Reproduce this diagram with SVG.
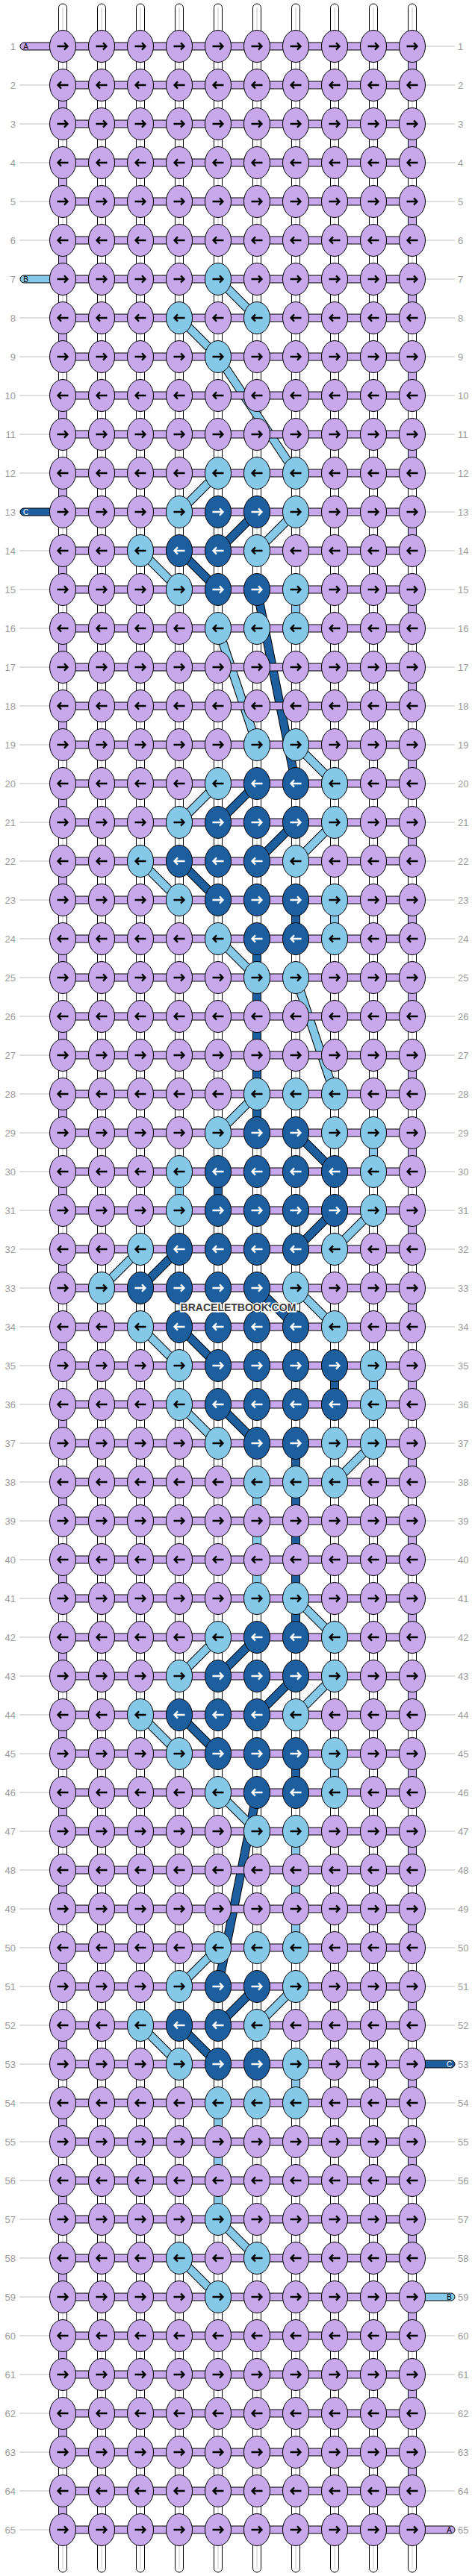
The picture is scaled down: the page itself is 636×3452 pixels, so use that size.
<svg xmlns="http://www.w3.org/2000/svg" width="636" height="3452" viewBox="0 0 636 3452">
<style>
.st{fill:#fff;stroke:#000}
.sl{fill:none;stroke:#c4c4c4}
.vl,.hr,.kl,.pl{fill:#c7a8ea;stroke:#000}
.vb,.kb,.pb{fill:#86c8e8;stroke:#000}
.vd,.kd,.pd{fill:#1c5e9e;stroke:#000}
.ob{fill:none;stroke:#000;stroke-width:12}
.bb{fill:none;stroke:#86c8e8;stroke-width:10}
.bd{fill:none;stroke:#1c5e9e;stroke-width:10}
.ab{fill:none;stroke:#000;stroke-width:2.3}
.aw{fill:none;stroke:#fff;stroke-width:2.3}
.lt,.rt{font-family:"Liberation Sans",Arial,sans-serif;font-size:13px;fill:#9a9a9a}
.lt{text-anchor:end}
.ln{fill:none;stroke:#bdbdbd}
.pt,.pw{font-family:"Liberation Sans",Arial,sans-serif;font-size:10px;text-anchor:middle}
.pt{fill:#000}
.pw{fill:#fff}
.wm{font-family:"Liberation Sans",Arial,sans-serif;font-size:14px;font-weight:bold;fill:#3c3c3c;stroke:#fff;stroke-width:3;paint-order:stroke;text-anchor:middle}
</style>
<defs>
<g id="a"><ellipse class="kl" rx="17.5" ry="21.5"/><path class="ab" d="M-7.5,0H6M2,-4.6L6.5,0L2,4.6"/></g>
<g id="b"><ellipse class="kl" rx="17.5" ry="21.5"/><path class="ab" d="M7.5,0H-6M-2,-4.6L-6.5,0L-2,4.6"/></g>
<g id="c"><ellipse class="kb" rx="17.5" ry="21.5"/><path class="ab" d="M-7.5,0H6M2,-4.6L6.5,0L2,4.6"/></g>
<g id="d"><ellipse class="kb" rx="17.5" ry="21.5"/><path class="ab" d="M7.5,0H-6M-2,-4.6L-6.5,0L-2,4.6"/></g>
<g id="e"><ellipse class="kd" rx="17.5" ry="21.5"/><path class="aw" d="M-7.5,0H6M2,-4.6L6.5,0L2,4.6"/></g>
<g id="f"><ellipse class="kd" rx="17.5" ry="21.5"/><path class="aw" d="M7.5,0H-6M-2,-4.6L-6.5,0L-2,4.6"/></g>
</defs>
<rect width="636" height="3452" fill="#fff"/>
<g id="connectors">
<g id="strands">
<rect class="st" x="78.5" y="5" width="11" height="3442" rx="5.5"/>
<rect class="st" x="130.5" y="5" width="11" height="3442" rx="5.5"/>
<rect class="st" x="182.5" y="5" width="11" height="3442" rx="5.5"/>
<rect class="st" x="234.5" y="5" width="11" height="3442" rx="5.5"/>
<rect class="st" x="286.5" y="5" width="11" height="3442" rx="5.5"/>
<rect class="st" x="338.5" y="5" width="11" height="3442" rx="5.5"/>
<rect class="st" x="390.5" y="5" width="11" height="3442" rx="5.5"/>
<rect class="st" x="442.5" y="5" width="11" height="3442" rx="5.5"/>
<rect class="st" x="494.5" y="5" width="11" height="3442" rx="5.5"/>
<rect class="st" x="546.5" y="5" width="11" height="3442" rx="5.5"/>
<path class="sl" d="M84,10V3442M136,10V3442M188,10V3442M240,10V3442M292,10V3442M344,10V3442M396,10V3442M448,10V3442M500,10V3442M552,10V3442"/>
</g>
<path class="vl" d="M546.5,77h11v22h-11zM546.5,181h11v22h-11zM546.5,285h11v22h-11zM546.5,389h11v22h-11zM546.5,493h11v22h-11zM546.5,597h11v22h-11zM546.5,701h11v22h-11zM546.5,805h11v22h-11zM546.5,909h11v22h-11zM546.5,1013h11v22h-11zM546.5,1117h11v22h-11zM546.5,1221h11v22h-11zM546.5,1325h11v22h-11zM546.5,1429h11v22h-11zM546.5,1533h11v22h-11zM546.5,1637h11v22h-11zM546.5,1741h11v22h-11zM546.5,1845h11v22h-11zM546.5,1949h11v22h-11zM546.5,2053h11v22h-11zM546.5,2157h11v22h-11zM546.5,2261h11v22h-11zM546.5,2365h11v22h-11zM546.5,2469h11v22h-11zM546.5,2573h11v22h-11zM546.5,2677h11v22h-11zM546.5,2781h11v22h-11zM546.5,2885h11v22h-11zM546.5,2989h11v22h-11zM546.5,3093h11v22h-11zM546.5,3197h11v22h-11zM546.5,3301h11v22h-11zM78.5,129h11v22h-11zM78.5,233h11v22h-11zM78.5,337h11v22h-11zM78.5,441h11v22h-11zM78.5,545h11v22h-11zM78.5,649h11v22h-11zM78.5,753h11v22h-11zM78.5,857h11v22h-11zM78.5,961h11v22h-11zM78.5,1065h11v22h-11zM78.5,1169h11v22h-11zM78.5,1273h11v22h-11zM78.5,1377h11v22h-11zM78.5,1481h11v22h-11zM78.5,1585h11v22h-11zM78.5,1689h11v22h-11zM78.5,1793h11v22h-11zM78.5,1897h11v22h-11zM78.5,2001h11v22h-11zM78.5,2105h11v22h-11zM78.5,2209h11v22h-11zM78.5,2313h11v22h-11zM78.5,2417h11v22h-11zM78.5,2521h11v22h-11zM78.5,2625h11v22h-11zM78.5,2729h11v22h-11zM78.5,2833h11v22h-11zM78.5,2937h11v22h-11zM78.5,3041h11v22h-11zM78.5,3145h11v22h-11zM78.5,3249h11v22h-11zM78.5,3353h11v22h-11z"/>
<path class="vd" d="M338.5,1273h11v230h-11zM390.5,1221h11v22h-11zM286.5,1585h11v22h-11zM442.5,1845h11v22h-11zM390.5,1949h11v230h-11zM390.5,2365h11v22h-11z"/>
<path class="vb" d="M390.5,805h11v22h-11zM442.5,1221h11v22h-11zM494.5,1533h11v22h-11zM234.5,1585h11v22h-11zM494.5,1845h11v22h-11zM338.5,2001h11v126h-11zM442.5,2365h11v22h-11zM390.5,2469h11v126h-11zM390.5,2781h11v22h-11zM286.5,2833h11v126h-11z"/>
<path class="ob" d="M292,374L344,426M240,426L292,478M292,478L396,634M292,634L240,686M396,686L344,738M188,738L240,790M292,842L344,998M396,998L448,1050M292,1050L240,1102M448,1102L396,1154M188,1154L240,1206M292,1258L344,1310M396,1310L448,1466M344,1466L292,1518M500,1622L448,1674M188,1674L136,1726M396,1726L448,1778M188,1778L240,1830M240,1882L292,1934M500,1934L448,1986M396,2142L448,2194M292,2194L240,2246M448,2246L396,2298M188,2298L240,2350M292,2402L344,2454M292,2610L240,2662M396,2662L344,2714M188,2714L240,2766M292,2974L344,3026M240,3026L292,3078M344,686L292,738M240,738L292,790M344,790L396,1050M344,1050L292,1102M396,1102L344,1154M240,1154L292,1206M396,1518L448,1570M448,1622L396,1674M240,1674L188,1726M344,1726L396,1778M240,1778L292,1830M292,1882L344,1934M344,2194L292,2246M396,2246L344,2298M240,2298L292,2350M344,2402L292,2662M344,2662L292,2714M240,2714L292,2766"/>
<path class="bb" d="M292,374L344,426M240,426L292,478M292,478L396,634M292,634L240,686M396,686L344,738M188,738L240,790M292,842L344,998M396,998L448,1050M292,1050L240,1102M448,1102L396,1154M188,1154L240,1206M292,1258L344,1310M396,1310L448,1466M344,1466L292,1518M500,1622L448,1674M188,1674L136,1726M396,1726L448,1778M188,1778L240,1830M240,1882L292,1934M500,1934L448,1986M396,2142L448,2194M292,2194L240,2246M448,2246L396,2298M188,2298L240,2350M292,2402L344,2454M292,2610L240,2662M396,2662L344,2714M188,2714L240,2766M292,2974L344,3026M240,3026L292,3078"/>
<path class="bd" d="M344,686L292,738M240,738L292,790M344,790L396,1050M344,1050L292,1102M396,1102L344,1154M240,1154L292,1206M396,1518L448,1570M448,1622L396,1674M240,1674L188,1726M344,1726L396,1778M240,1778L292,1830M292,1882L344,1934M344,2194L292,2246M396,2246L344,2298M240,2298L292,2350M344,2402L292,2662M344,2662L292,2714M240,2714L292,2766"/>
<path class="hr" d="M84,57h468v10h-468zM84,109h468v10h-468zM84,161h468v10h-468zM84,213h468v10h-468zM84,265h468v10h-468zM84,317h468v10h-468zM84,369h468v10h-468zM84,421h468v10h-468zM84,473h468v10h-468zM84,525h468v10h-468zM84,577h468v10h-468zM84,629h468v10h-468zM84,681h468v10h-468zM84,733h468v10h-468zM84,785h468v10h-468zM84,837h468v10h-468zM84,889h468v10h-468zM84,941h468v10h-468zM84,993h468v10h-468zM84,1045h468v10h-468zM84,1097h468v10h-468zM84,1149h468v10h-468zM84,1201h468v10h-468zM84,1253h468v10h-468zM84,1305h468v10h-468zM84,1357h468v10h-468zM84,1409h468v10h-468zM84,1461h468v10h-468zM84,1513h468v10h-468zM84,1565h468v10h-468zM84,1617h468v10h-468zM84,1669h468v10h-468zM84,1721h468v10h-468zM84,1773h468v10h-468zM84,1825h468v10h-468zM84,1877h468v10h-468zM84,1929h468v10h-468zM84,1981h468v10h-468zM84,2033h468v10h-468zM84,2085h468v10h-468zM84,2137h468v10h-468zM84,2189h468v10h-468zM84,2241h468v10h-468zM84,2293h468v10h-468zM84,2345h468v10h-468zM84,2397h468v10h-468zM84,2449h468v10h-468zM84,2501h468v10h-468zM84,2553h468v10h-468zM84,2605h468v10h-468zM84,2657h468v10h-468zM84,2709h468v10h-468zM84,2761h468v10h-468zM84,2813h468v10h-468zM84,2865h468v10h-468zM84,2917h468v10h-468zM84,2969h468v10h-468zM84,3021h468v10h-468zM84,3073h468v10h-468zM84,3125h468v10h-468zM84,3177h468v10h-468zM84,3229h468v10h-468zM84,3281h468v10h-468zM84,3333h468v10h-468zM84,3385h468v10h-468z"/>
<g id="ends">
<rect class="pl" x="27" y="57" width="62" height="10" rx="5"/><text class="pt" x="34.5" y="65.6">A</text>
<rect class="pb" x="27" y="369" width="62" height="10" rx="5"/><text class="pt" x="34.5" y="377.6">B</text>
<rect class="pd" x="27" y="681" width="62" height="10" rx="5"/><text class="pw" x="34.5" y="689.6">C</text>
<rect class="pd" x="547" y="2761" width="62" height="10" rx="5"/><text class="pw" x="601.5" y="2769.6">C</text>
<rect class="pb" x="547" y="3073" width="62" height="10" rx="5"/><text class="pt" x="601.5" y="3081.6">B</text>
<rect class="pl" x="547" y="3385" width="62" height="10" rx="5"/><text class="pt" x="601.5" y="3393.6">A</text>
</g>
</g>
<g id="nodes">
<g id="row1" transform="translate(0,62)"><text class="lt" x="21" y="4.5">1</text><text class="rt" x="613" y="4.5">1</text><path class="ln" d="M570,0H609"/><g id="n1_1"><use href="#a" x="84"/></g><g id="n1_2"><use href="#a" x="136"/></g><g id="n1_3"><use href="#a" x="188"/></g><g id="n1_4"><use href="#a" x="240"/></g><g id="n1_5"><use href="#a" x="292"/></g><g id="n1_6"><use href="#a" x="344"/></g><g id="n1_7"><use href="#a" x="396"/></g><g id="n1_8"><use href="#a" x="448"/></g><g id="n1_9"><use href="#a" x="500"/></g><g id="n1_10"><use href="#a" x="552"/></g></g>
<g id="row2" transform="translate(0,114)"><text class="lt" x="21" y="4.5">2</text><text class="rt" x="613" y="4.5">2</text><path class="ln" d="M26,0H66M570,0H609"/><g id="n2_1"><use href="#b" x="84"/></g><g id="n2_2"><use href="#b" x="136"/></g><g id="n2_3"><use href="#b" x="188"/></g><g id="n2_4"><use href="#b" x="240"/></g><g id="n2_5"><use href="#b" x="292"/></g><g id="n2_6"><use href="#b" x="344"/></g><g id="n2_7"><use href="#b" x="396"/></g><g id="n2_8"><use href="#b" x="448"/></g><g id="n2_9"><use href="#b" x="500"/></g><g id="n2_10"><use href="#b" x="552"/></g></g>
<g id="row3" transform="translate(0,166)"><text class="lt" x="21" y="4.5">3</text><text class="rt" x="613" y="4.5">3</text><path class="ln" d="M26,0H66M570,0H609"/><g id="n3_1"><use href="#a" x="84"/></g><g id="n3_2"><use href="#a" x="136"/></g><g id="n3_3"><use href="#a" x="188"/></g><g id="n3_4"><use href="#a" x="240"/></g><g id="n3_5"><use href="#a" x="292"/></g><g id="n3_6"><use href="#a" x="344"/></g><g id="n3_7"><use href="#a" x="396"/></g><g id="n3_8"><use href="#a" x="448"/></g><g id="n3_9"><use href="#a" x="500"/></g><g id="n3_10"><use href="#a" x="552"/></g></g>
<g id="row4" transform="translate(0,218)"><text class="lt" x="21" y="4.5">4</text><text class="rt" x="613" y="4.5">4</text><path class="ln" d="M26,0H66M570,0H609"/><g id="n4_1"><use href="#b" x="84"/></g><g id="n4_2"><use href="#b" x="136"/></g><g id="n4_3"><use href="#b" x="188"/></g><g id="n4_4"><use href="#b" x="240"/></g><g id="n4_5"><use href="#b" x="292"/></g><g id="n4_6"><use href="#b" x="344"/></g><g id="n4_7"><use href="#b" x="396"/></g><g id="n4_8"><use href="#b" x="448"/></g><g id="n4_9"><use href="#b" x="500"/></g><g id="n4_10"><use href="#b" x="552"/></g></g>
<g id="row5" transform="translate(0,270)"><text class="lt" x="21" y="4.5">5</text><text class="rt" x="613" y="4.5">5</text><path class="ln" d="M26,0H66M570,0H609"/><g id="n5_1"><use href="#a" x="84"/></g><g id="n5_2"><use href="#a" x="136"/></g><g id="n5_3"><use href="#a" x="188"/></g><g id="n5_4"><use href="#a" x="240"/></g><g id="n5_5"><use href="#a" x="292"/></g><g id="n5_6"><use href="#a" x="344"/></g><g id="n5_7"><use href="#a" x="396"/></g><g id="n5_8"><use href="#a" x="448"/></g><g id="n5_9"><use href="#a" x="500"/></g><g id="n5_10"><use href="#a" x="552"/></g></g>
<g id="row6" transform="translate(0,322)"><text class="lt" x="21" y="4.5">6</text><text class="rt" x="613" y="4.5">6</text><path class="ln" d="M26,0H66M570,0H609"/><g id="n6_1"><use href="#b" x="84"/></g><g id="n6_2"><use href="#b" x="136"/></g><g id="n6_3"><use href="#b" x="188"/></g><g id="n6_4"><use href="#b" x="240"/></g><g id="n6_5"><use href="#b" x="292"/></g><g id="n6_6"><use href="#b" x="344"/></g><g id="n6_7"><use href="#b" x="396"/></g><g id="n6_8"><use href="#b" x="448"/></g><g id="n6_9"><use href="#b" x="500"/></g><g id="n6_10"><use href="#b" x="552"/></g></g>
<g id="row7" transform="translate(0,374)"><text class="lt" x="21" y="4.5">7</text><text class="rt" x="613" y="4.5">7</text><path class="ln" d="M570,0H609"/><g id="n7_1"><use href="#a" x="84"/></g><g id="n7_2"><use href="#a" x="136"/></g><g id="n7_3"><use href="#a" x="188"/></g><g id="n7_4"><use href="#a" x="240"/></g><g id="n7_5"><use href="#c" x="292"/></g><g id="n7_6"><use href="#a" x="344"/></g><g id="n7_7"><use href="#a" x="396"/></g><g id="n7_8"><use href="#a" x="448"/></g><g id="n7_9"><use href="#a" x="500"/></g><g id="n7_10"><use href="#a" x="552"/></g></g>
<g id="row8" transform="translate(0,426)"><text class="lt" x="21" y="4.5">8</text><text class="rt" x="613" y="4.5">8</text><path class="ln" d="M26,0H66M570,0H609"/><g id="n8_1"><use href="#b" x="84"/></g><g id="n8_2"><use href="#b" x="136"/></g><g id="n8_3"><use href="#b" x="188"/></g><g id="n8_4"><use href="#d" x="240"/></g><g id="n8_5"><use href="#b" x="292"/></g><g id="n8_6"><use href="#d" x="344"/></g><g id="n8_7"><use href="#b" x="396"/></g><g id="n8_8"><use href="#b" x="448"/></g><g id="n8_9"><use href="#b" x="500"/></g><g id="n8_10"><use href="#b" x="552"/></g></g>
<g id="row9" transform="translate(0,478)"><text class="lt" x="21" y="4.5">9</text><text class="rt" x="613" y="4.5">9</text><path class="ln" d="M26,0H66M570,0H609"/><g id="n9_1"><use href="#a" x="84"/></g><g id="n9_2"><use href="#a" x="136"/></g><g id="n9_3"><use href="#a" x="188"/></g><g id="n9_4"><use href="#a" x="240"/></g><g id="n9_5"><use href="#c" x="292"/></g><g id="n9_6"><use href="#a" x="344"/></g><g id="n9_7"><use href="#a" x="396"/></g><g id="n9_8"><use href="#a" x="448"/></g><g id="n9_9"><use href="#a" x="500"/></g><g id="n9_10"><use href="#a" x="552"/></g></g>
<g id="row10" transform="translate(0,530)"><text class="lt" x="21" y="4.5">10</text><text class="rt" x="613" y="4.5">10</text><path class="ln" d="M26,0H66M570,0H609"/><g id="n10_1"><use href="#b" x="84"/></g><g id="n10_2"><use href="#b" x="136"/></g><g id="n10_3"><use href="#b" x="188"/></g><g id="n10_4"><use href="#b" x="240"/></g><g id="n10_5"><use href="#b" x="292"/></g><g id="n10_6"><use href="#b" x="344"/></g><g id="n10_7"><use href="#b" x="396"/></g><g id="n10_8"><use href="#b" x="448"/></g><g id="n10_9"><use href="#b" x="500"/></g><g id="n10_10"><use href="#b" x="552"/></g></g>
<g id="row11" transform="translate(0,582)"><text class="lt" x="21" y="4.5">11</text><text class="rt" x="613" y="4.5">11</text><path class="ln" d="M26,0H66M570,0H609"/><g id="n11_1"><use href="#a" x="84"/></g><g id="n11_2"><use href="#a" x="136"/></g><g id="n11_3"><use href="#a" x="188"/></g><g id="n11_4"><use href="#a" x="240"/></g><g id="n11_5"><use href="#a" x="292"/></g><g id="n11_6"><use href="#a" x="344"/></g><g id="n11_7"><use href="#a" x="396"/></g><g id="n11_8"><use href="#a" x="448"/></g><g id="n11_9"><use href="#a" x="500"/></g><g id="n11_10"><use href="#a" x="552"/></g></g>
<g id="row12" transform="translate(0,634)"><text class="lt" x="21" y="4.5">12</text><text class="rt" x="613" y="4.5">12</text><path class="ln" d="M26,0H66M570,0H609"/><g id="n12_1"><use href="#b" x="84"/></g><g id="n12_2"><use href="#b" x="136"/></g><g id="n12_3"><use href="#b" x="188"/></g><g id="n12_4"><use href="#b" x="240"/></g><g id="n12_5"><use href="#d" x="292"/></g><g id="n12_6"><use href="#d" x="344"/></g><g id="n12_7"><use href="#d" x="396"/></g><g id="n12_8"><use href="#b" x="448"/></g><g id="n12_9"><use href="#b" x="500"/></g><g id="n12_10"><use href="#b" x="552"/></g></g>
<g id="row13" transform="translate(0,686)"><text class="lt" x="21" y="4.5">13</text><text class="rt" x="613" y="4.5">13</text><path class="ln" d="M570,0H609"/><g id="n13_1"><use href="#a" x="84"/></g><g id="n13_2"><use href="#a" x="136"/></g><g id="n13_3"><use href="#a" x="188"/></g><g id="n13_4"><use href="#c" x="240"/></g><g id="n13_5"><use href="#e" x="292"/></g><g id="n13_6"><use href="#e" x="344"/></g><g id="n13_7"><use href="#c" x="396"/></g><g id="n13_8"><use href="#a" x="448"/></g><g id="n13_9"><use href="#a" x="500"/></g><g id="n13_10"><use href="#a" x="552"/></g></g>
<g id="row14" transform="translate(0,738)"><text class="lt" x="21" y="4.5">14</text><text class="rt" x="613" y="4.5">14</text><path class="ln" d="M26,0H66M570,0H609"/><g id="n14_1"><use href="#b" x="84"/></g><g id="n14_2"><use href="#b" x="136"/></g><g id="n14_3"><use href="#d" x="188"/></g><g id="n14_4"><use href="#f" x="240"/></g><g id="n14_5"><use href="#f" x="292"/></g><g id="n14_6"><use href="#d" x="344"/></g><g id="n14_7"><use href="#b" x="396"/></g><g id="n14_8"><use href="#b" x="448"/></g><g id="n14_9"><use href="#b" x="500"/></g><g id="n14_10"><use href="#b" x="552"/></g></g>
<g id="row15" transform="translate(0,790)"><text class="lt" x="21" y="4.5">15</text><text class="rt" x="613" y="4.5">15</text><path class="ln" d="M26,0H66M570,0H609"/><g id="n15_1"><use href="#a" x="84"/></g><g id="n15_2"><use href="#a" x="136"/></g><g id="n15_3"><use href="#a" x="188"/></g><g id="n15_4"><use href="#c" x="240"/></g><g id="n15_5"><use href="#e" x="292"/></g><g id="n15_6"><use href="#e" x="344"/></g><g id="n15_7"><use href="#c" x="396"/></g><g id="n15_8"><use href="#a" x="448"/></g><g id="n15_9"><use href="#a" x="500"/></g><g id="n15_10"><use href="#a" x="552"/></g></g>
<g id="row16" transform="translate(0,842)"><text class="lt" x="21" y="4.5">16</text><text class="rt" x="613" y="4.5">16</text><path class="ln" d="M26,0H66M570,0H609"/><g id="n16_1"><use href="#b" x="84"/></g><g id="n16_2"><use href="#b" x="136"/></g><g id="n16_3"><use href="#b" x="188"/></g><g id="n16_4"><use href="#b" x="240"/></g><g id="n16_5"><use href="#d" x="292"/></g><g id="n16_6"><use href="#d" x="344"/></g><g id="n16_7"><use href="#d" x="396"/></g><g id="n16_8"><use href="#b" x="448"/></g><g id="n16_9"><use href="#b" x="500"/></g><g id="n16_10"><use href="#b" x="552"/></g></g>
<g id="row17" transform="translate(0,894)"><text class="lt" x="21" y="4.5">17</text><text class="rt" x="613" y="4.5">17</text><path class="ln" d="M26,0H66M570,0H609"/><g id="n17_1"><use href="#a" x="84"/></g><g id="n17_2"><use href="#a" x="136"/></g><g id="n17_3"><use href="#a" x="188"/></g><g id="n17_4"><use href="#a" x="240"/></g><g id="n17_5"><use href="#a" x="292"/></g><g id="n17_6"><use href="#a" x="344"/></g><g id="n17_7"><use href="#a" x="396"/></g><g id="n17_8"><use href="#a" x="448"/></g><g id="n17_9"><use href="#a" x="500"/></g><g id="n17_10"><use href="#a" x="552"/></g></g>
<g id="row18" transform="translate(0,946)"><text class="lt" x="21" y="4.5">18</text><text class="rt" x="613" y="4.5">18</text><path class="ln" d="M26,0H66M570,0H609"/><g id="n18_1"><use href="#b" x="84"/></g><g id="n18_2"><use href="#b" x="136"/></g><g id="n18_3"><use href="#b" x="188"/></g><g id="n18_4"><use href="#b" x="240"/></g><g id="n18_5"><use href="#b" x="292"/></g><g id="n18_6"><use href="#b" x="344"/></g><g id="n18_7"><use href="#b" x="396"/></g><g id="n18_8"><use href="#b" x="448"/></g><g id="n18_9"><use href="#b" x="500"/></g><g id="n18_10"><use href="#b" x="552"/></g></g>
<g id="row19" transform="translate(0,998)"><text class="lt" x="21" y="4.5">19</text><text class="rt" x="613" y="4.5">19</text><path class="ln" d="M26,0H66M570,0H609"/><g id="n19_1"><use href="#a" x="84"/></g><g id="n19_2"><use href="#a" x="136"/></g><g id="n19_3"><use href="#a" x="188"/></g><g id="n19_4"><use href="#a" x="240"/></g><g id="n19_5"><use href="#a" x="292"/></g><g id="n19_6"><use href="#c" x="344"/></g><g id="n19_7"><use href="#c" x="396"/></g><g id="n19_8"><use href="#a" x="448"/></g><g id="n19_9"><use href="#a" x="500"/></g><g id="n19_10"><use href="#a" x="552"/></g></g>
<g id="row20" transform="translate(0,1050)"><text class="lt" x="21" y="4.5">20</text><text class="rt" x="613" y="4.5">20</text><path class="ln" d="M26,0H66M570,0H609"/><g id="n20_1"><use href="#b" x="84"/></g><g id="n20_2"><use href="#b" x="136"/></g><g id="n20_3"><use href="#b" x="188"/></g><g id="n20_4"><use href="#b" x="240"/></g><g id="n20_5"><use href="#d" x="292"/></g><g id="n20_6"><use href="#f" x="344"/></g><g id="n20_7"><use href="#f" x="396"/></g><g id="n20_8"><use href="#d" x="448"/></g><g id="n20_9"><use href="#b" x="500"/></g><g id="n20_10"><use href="#b" x="552"/></g></g>
<g id="row21" transform="translate(0,1102)"><text class="lt" x="21" y="4.5">21</text><text class="rt" x="613" y="4.5">21</text><path class="ln" d="M26,0H66M570,0H609"/><g id="n21_1"><use href="#a" x="84"/></g><g id="n21_2"><use href="#a" x="136"/></g><g id="n21_3"><use href="#a" x="188"/></g><g id="n21_4"><use href="#c" x="240"/></g><g id="n21_5"><use href="#e" x="292"/></g><g id="n21_6"><use href="#e" x="344"/></g><g id="n21_7"><use href="#e" x="396"/></g><g id="n21_8"><use href="#c" x="448"/></g><g id="n21_9"><use href="#a" x="500"/></g><g id="n21_10"><use href="#a" x="552"/></g></g>
<g id="row22" transform="translate(0,1154)"><text class="lt" x="21" y="4.5">22</text><text class="rt" x="613" y="4.5">22</text><path class="ln" d="M26,0H66M570,0H609"/><g id="n22_1"><use href="#b" x="84"/></g><g id="n22_2"><use href="#b" x="136"/></g><g id="n22_3"><use href="#d" x="188"/></g><g id="n22_4"><use href="#f" x="240"/></g><g id="n22_5"><use href="#f" x="292"/></g><g id="n22_6"><use href="#f" x="344"/></g><g id="n22_7"><use href="#d" x="396"/></g><g id="n22_8"><use href="#b" x="448"/></g><g id="n22_9"><use href="#b" x="500"/></g><g id="n22_10"><use href="#b" x="552"/></g></g>
<g id="row23" transform="translate(0,1206)"><text class="lt" x="21" y="4.5">23</text><text class="rt" x="613" y="4.5">23</text><path class="ln" d="M26,0H66M570,0H609"/><g id="n23_1"><use href="#a" x="84"/></g><g id="n23_2"><use href="#a" x="136"/></g><g id="n23_3"><use href="#a" x="188"/></g><g id="n23_4"><use href="#c" x="240"/></g><g id="n23_5"><use href="#e" x="292"/></g><g id="n23_6"><use href="#e" x="344"/></g><g id="n23_7"><use href="#e" x="396"/></g><g id="n23_8"><use href="#c" x="448"/></g><g id="n23_9"><use href="#a" x="500"/></g><g id="n23_10"><use href="#a" x="552"/></g></g>
<g id="row24" transform="translate(0,1258)"><text class="lt" x="21" y="4.5">24</text><text class="rt" x="613" y="4.5">24</text><path class="ln" d="M26,0H66M570,0H609"/><g id="n24_1"><use href="#b" x="84"/></g><g id="n24_2"><use href="#b" x="136"/></g><g id="n24_3"><use href="#b" x="188"/></g><g id="n24_4"><use href="#b" x="240"/></g><g id="n24_5"><use href="#d" x="292"/></g><g id="n24_6"><use href="#f" x="344"/></g><g id="n24_7"><use href="#f" x="396"/></g><g id="n24_8"><use href="#d" x="448"/></g><g id="n24_9"><use href="#b" x="500"/></g><g id="n24_10"><use href="#b" x="552"/></g></g>
<g id="row25" transform="translate(0,1310)"><text class="lt" x="21" y="4.5">25</text><text class="rt" x="613" y="4.5">25</text><path class="ln" d="M26,0H66M570,0H609"/><g id="n25_1"><use href="#a" x="84"/></g><g id="n25_2"><use href="#a" x="136"/></g><g id="n25_3"><use href="#a" x="188"/></g><g id="n25_4"><use href="#a" x="240"/></g><g id="n25_5"><use href="#a" x="292"/></g><g id="n25_6"><use href="#c" x="344"/></g><g id="n25_7"><use href="#c" x="396"/></g><g id="n25_8"><use href="#a" x="448"/></g><g id="n25_9"><use href="#a" x="500"/></g><g id="n25_10"><use href="#a" x="552"/></g></g>
<g id="row26" transform="translate(0,1362)"><text class="lt" x="21" y="4.5">26</text><text class="rt" x="613" y="4.5">26</text><path class="ln" d="M26,0H66M570,0H609"/><g id="n26_1"><use href="#b" x="84"/></g><g id="n26_2"><use href="#b" x="136"/></g><g id="n26_3"><use href="#b" x="188"/></g><g id="n26_4"><use href="#b" x="240"/></g><g id="n26_5"><use href="#b" x="292"/></g><g id="n26_6"><use href="#b" x="344"/></g><g id="n26_7"><use href="#b" x="396"/></g><g id="n26_8"><use href="#b" x="448"/></g><g id="n26_9"><use href="#b" x="500"/></g><g id="n26_10"><use href="#b" x="552"/></g></g>
<g id="row27" transform="translate(0,1414)"><text class="lt" x="21" y="4.5">27</text><text class="rt" x="613" y="4.5">27</text><path class="ln" d="M26,0H66M570,0H609"/><g id="n27_1"><use href="#a" x="84"/></g><g id="n27_2"><use href="#a" x="136"/></g><g id="n27_3"><use href="#a" x="188"/></g><g id="n27_4"><use href="#a" x="240"/></g><g id="n27_5"><use href="#a" x="292"/></g><g id="n27_6"><use href="#a" x="344"/></g><g id="n27_7"><use href="#a" x="396"/></g><g id="n27_8"><use href="#a" x="448"/></g><g id="n27_9"><use href="#a" x="500"/></g><g id="n27_10"><use href="#a" x="552"/></g></g>
<g id="row28" transform="translate(0,1466)"><text class="lt" x="21" y="4.5">28</text><text class="rt" x="613" y="4.5">28</text><path class="ln" d="M26,0H66M570,0H609"/><g id="n28_1"><use href="#b" x="84"/></g><g id="n28_2"><use href="#b" x="136"/></g><g id="n28_3"><use href="#b" x="188"/></g><g id="n28_4"><use href="#b" x="240"/></g><g id="n28_5"><use href="#b" x="292"/></g><g id="n28_6"><use href="#d" x="344"/></g><g id="n28_7"><use href="#d" x="396"/></g><g id="n28_8"><use href="#d" x="448"/></g><g id="n28_9"><use href="#b" x="500"/></g><g id="n28_10"><use href="#b" x="552"/></g></g>
<g id="row29" transform="translate(0,1518)"><text class="lt" x="21" y="4.5">29</text><text class="rt" x="613" y="4.5">29</text><path class="ln" d="M26,0H66M570,0H609"/><g id="n29_1"><use href="#a" x="84"/></g><g id="n29_2"><use href="#a" x="136"/></g><g id="n29_3"><use href="#a" x="188"/></g><g id="n29_4"><use href="#a" x="240"/></g><g id="n29_5"><use href="#c" x="292"/></g><g id="n29_6"><use href="#e" x="344"/></g><g id="n29_7"><use href="#e" x="396"/></g><g id="n29_8"><use href="#c" x="448"/></g><g id="n29_9"><use href="#c" x="500"/></g><g id="n29_10"><use href="#a" x="552"/></g></g>
<g id="row30" transform="translate(0,1570)"><text class="lt" x="21" y="4.5">30</text><text class="rt" x="613" y="4.5">30</text><path class="ln" d="M26,0H66M570,0H609"/><g id="n30_1"><use href="#b" x="84"/></g><g id="n30_2"><use href="#b" x="136"/></g><g id="n30_3"><use href="#b" x="188"/></g><g id="n30_4"><use href="#d" x="240"/></g><g id="n30_5"><use href="#f" x="292"/></g><g id="n30_6"><use href="#f" x="344"/></g><g id="n30_7"><use href="#f" x="396"/></g><g id="n30_8"><use href="#f" x="448"/></g><g id="n30_9"><use href="#d" x="500"/></g><g id="n30_10"><use href="#b" x="552"/></g></g>
<g id="row31" transform="translate(0,1622)"><text class="lt" x="21" y="4.5">31</text><text class="rt" x="613" y="4.5">31</text><path class="ln" d="M26,0H66M570,0H609"/><g id="n31_1"><use href="#a" x="84"/></g><g id="n31_2"><use href="#a" x="136"/></g><g id="n31_3"><use href="#a" x="188"/></g><g id="n31_4"><use href="#c" x="240"/></g><g id="n31_5"><use href="#e" x="292"/></g><g id="n31_6"><use href="#e" x="344"/></g><g id="n31_7"><use href="#e" x="396"/></g><g id="n31_8"><use href="#e" x="448"/></g><g id="n31_9"><use href="#c" x="500"/></g><g id="n31_10"><use href="#a" x="552"/></g></g>
<g id="row32" transform="translate(0,1674)"><text class="lt" x="21" y="4.5">32</text><text class="rt" x="613" y="4.5">32</text><path class="ln" d="M26,0H66M570,0H609"/><g id="n32_1"><use href="#b" x="84"/></g><g id="n32_2"><use href="#b" x="136"/></g><g id="n32_3"><use href="#d" x="188"/></g><g id="n32_4"><use href="#f" x="240"/></g><g id="n32_5"><use href="#f" x="292"/></g><g id="n32_6"><use href="#f" x="344"/></g><g id="n32_7"><use href="#f" x="396"/></g><g id="n32_8"><use href="#d" x="448"/></g><g id="n32_9"><use href="#b" x="500"/></g><g id="n32_10"><use href="#b" x="552"/></g></g>
<g id="row33" transform="translate(0,1726)"><text class="lt" x="21" y="4.5">33</text><text class="rt" x="613" y="4.5">33</text><path class="ln" d="M26,0H66M570,0H609"/><g id="n33_1"><use href="#a" x="84"/></g><g id="n33_2"><use href="#c" x="136"/></g><g id="n33_3"><use href="#e" x="188"/></g><g id="n33_4"><use href="#e" x="240"/></g><g id="n33_5"><use href="#e" x="292"/></g><g id="n33_6"><use href="#e" x="344"/></g><g id="n33_7"><use href="#c" x="396"/></g><g id="n33_8"><use href="#a" x="448"/></g><g id="n33_9"><use href="#a" x="500"/></g><g id="n33_10"><use href="#a" x="552"/></g></g>
<g id="row34" transform="translate(0,1778)"><text class="lt" x="21" y="4.5">34</text><text class="rt" x="613" y="4.5">34</text><path class="ln" d="M26,0H66M570,0H609"/><g id="n34_1"><use href="#b" x="84"/></g><g id="n34_2"><use href="#b" x="136"/></g><g id="n34_3"><use href="#d" x="188"/></g><g id="n34_4"><use href="#f" x="240"/></g><g id="n34_5"><use href="#f" x="292"/></g><g id="n34_6"><use href="#f" x="344"/></g><g id="n34_7"><use href="#f" x="396"/></g><g id="n34_8"><use href="#d" x="448"/></g><g id="n34_9"><use href="#b" x="500"/></g><g id="n34_10"><use href="#b" x="552"/></g></g>
<g id="row35" transform="translate(0,1830)"><text class="lt" x="21" y="4.5">35</text><text class="rt" x="613" y="4.5">35</text><path class="ln" d="M26,0H66M570,0H609"/><g id="n35_1"><use href="#a" x="84"/></g><g id="n35_2"><use href="#a" x="136"/></g><g id="n35_3"><use href="#a" x="188"/></g><g id="n35_4"><use href="#c" x="240"/></g><g id="n35_5"><use href="#e" x="292"/></g><g id="n35_6"><use href="#e" x="344"/></g><g id="n35_7"><use href="#e" x="396"/></g><g id="n35_8"><use href="#e" x="448"/></g><g id="n35_9"><use href="#c" x="500"/></g><g id="n35_10"><use href="#a" x="552"/></g></g>
<g id="row36" transform="translate(0,1882)"><text class="lt" x="21" y="4.5">36</text><text class="rt" x="613" y="4.5">36</text><path class="ln" d="M26,0H66M570,0H609"/><g id="n36_1"><use href="#b" x="84"/></g><g id="n36_2"><use href="#b" x="136"/></g><g id="n36_3"><use href="#b" x="188"/></g><g id="n36_4"><use href="#d" x="240"/></g><g id="n36_5"><use href="#f" x="292"/></g><g id="n36_6"><use href="#f" x="344"/></g><g id="n36_7"><use href="#f" x="396"/></g><g id="n36_8"><use href="#f" x="448"/></g><g id="n36_9"><use href="#d" x="500"/></g><g id="n36_10"><use href="#b" x="552"/></g></g>
<g id="row37" transform="translate(0,1934)"><text class="lt" x="21" y="4.5">37</text><text class="rt" x="613" y="4.5">37</text><path class="ln" d="M26,0H66M570,0H609"/><g id="n37_1"><use href="#a" x="84"/></g><g id="n37_2"><use href="#a" x="136"/></g><g id="n37_3"><use href="#a" x="188"/></g><g id="n37_4"><use href="#a" x="240"/></g><g id="n37_5"><use href="#c" x="292"/></g><g id="n37_6"><use href="#e" x="344"/></g><g id="n37_7"><use href="#e" x="396"/></g><g id="n37_8"><use href="#c" x="448"/></g><g id="n37_9"><use href="#c" x="500"/></g><g id="n37_10"><use href="#a" x="552"/></g></g>
<g id="row38" transform="translate(0,1986)"><text class="lt" x="21" y="4.5">38</text><text class="rt" x="613" y="4.5">38</text><path class="ln" d="M26,0H66M570,0H609"/><g id="n38_1"><use href="#b" x="84"/></g><g id="n38_2"><use href="#b" x="136"/></g><g id="n38_3"><use href="#b" x="188"/></g><g id="n38_4"><use href="#b" x="240"/></g><g id="n38_5"><use href="#b" x="292"/></g><g id="n38_6"><use href="#d" x="344"/></g><g id="n38_7"><use href="#d" x="396"/></g><g id="n38_8"><use href="#d" x="448"/></g><g id="n38_9"><use href="#b" x="500"/></g><g id="n38_10"><use href="#b" x="552"/></g></g>
<g id="row39" transform="translate(0,2038)"><text class="lt" x="21" y="4.5">39</text><text class="rt" x="613" y="4.5">39</text><path class="ln" d="M26,0H66M570,0H609"/><g id="n39_1"><use href="#a" x="84"/></g><g id="n39_2"><use href="#a" x="136"/></g><g id="n39_3"><use href="#a" x="188"/></g><g id="n39_4"><use href="#a" x="240"/></g><g id="n39_5"><use href="#a" x="292"/></g><g id="n39_6"><use href="#a" x="344"/></g><g id="n39_7"><use href="#a" x="396"/></g><g id="n39_8"><use href="#a" x="448"/></g><g id="n39_9"><use href="#a" x="500"/></g><g id="n39_10"><use href="#a" x="552"/></g></g>
<g id="row40" transform="translate(0,2090)"><text class="lt" x="21" y="4.5">40</text><text class="rt" x="613" y="4.5">40</text><path class="ln" d="M26,0H66M570,0H609"/><g id="n40_1"><use href="#b" x="84"/></g><g id="n40_2"><use href="#b" x="136"/></g><g id="n40_3"><use href="#b" x="188"/></g><g id="n40_4"><use href="#b" x="240"/></g><g id="n40_5"><use href="#b" x="292"/></g><g id="n40_6"><use href="#b" x="344"/></g><g id="n40_7"><use href="#b" x="396"/></g><g id="n40_8"><use href="#b" x="448"/></g><g id="n40_9"><use href="#b" x="500"/></g><g id="n40_10"><use href="#b" x="552"/></g></g>
<g id="row41" transform="translate(0,2142)"><text class="lt" x="21" y="4.5">41</text><text class="rt" x="613" y="4.5">41</text><path class="ln" d="M26,0H66M570,0H609"/><g id="n41_1"><use href="#a" x="84"/></g><g id="n41_2"><use href="#a" x="136"/></g><g id="n41_3"><use href="#a" x="188"/></g><g id="n41_4"><use href="#a" x="240"/></g><g id="n41_5"><use href="#a" x="292"/></g><g id="n41_6"><use href="#c" x="344"/></g><g id="n41_7"><use href="#c" x="396"/></g><g id="n41_8"><use href="#a" x="448"/></g><g id="n41_9"><use href="#a" x="500"/></g><g id="n41_10"><use href="#a" x="552"/></g></g>
<g id="row42" transform="translate(0,2194)"><text class="lt" x="21" y="4.5">42</text><text class="rt" x="613" y="4.5">42</text><path class="ln" d="M26,0H66M570,0H609"/><g id="n42_1"><use href="#b" x="84"/></g><g id="n42_2"><use href="#b" x="136"/></g><g id="n42_3"><use href="#b" x="188"/></g><g id="n42_4"><use href="#b" x="240"/></g><g id="n42_5"><use href="#d" x="292"/></g><g id="n42_6"><use href="#f" x="344"/></g><g id="n42_7"><use href="#f" x="396"/></g><g id="n42_8"><use href="#d" x="448"/></g><g id="n42_9"><use href="#b" x="500"/></g><g id="n42_10"><use href="#b" x="552"/></g></g>
<g id="row43" transform="translate(0,2246)"><text class="lt" x="21" y="4.5">43</text><text class="rt" x="613" y="4.5">43</text><path class="ln" d="M26,0H66M570,0H609"/><g id="n43_1"><use href="#a" x="84"/></g><g id="n43_2"><use href="#a" x="136"/></g><g id="n43_3"><use href="#a" x="188"/></g><g id="n43_4"><use href="#c" x="240"/></g><g id="n43_5"><use href="#e" x="292"/></g><g id="n43_6"><use href="#e" x="344"/></g><g id="n43_7"><use href="#e" x="396"/></g><g id="n43_8"><use href="#c" x="448"/></g><g id="n43_9"><use href="#a" x="500"/></g><g id="n43_10"><use href="#a" x="552"/></g></g>
<g id="row44" transform="translate(0,2298)"><text class="lt" x="21" y="4.5">44</text><text class="rt" x="613" y="4.5">44</text><path class="ln" d="M26,0H66M570,0H609"/><g id="n44_1"><use href="#b" x="84"/></g><g id="n44_2"><use href="#b" x="136"/></g><g id="n44_3"><use href="#d" x="188"/></g><g id="n44_4"><use href="#f" x="240"/></g><g id="n44_5"><use href="#f" x="292"/></g><g id="n44_6"><use href="#f" x="344"/></g><g id="n44_7"><use href="#d" x="396"/></g><g id="n44_8"><use href="#b" x="448"/></g><g id="n44_9"><use href="#b" x="500"/></g><g id="n44_10"><use href="#b" x="552"/></g></g>
<g id="row45" transform="translate(0,2350)"><text class="lt" x="21" y="4.5">45</text><text class="rt" x="613" y="4.5">45</text><path class="ln" d="M26,0H66M570,0H609"/><g id="n45_1"><use href="#a" x="84"/></g><g id="n45_2"><use href="#a" x="136"/></g><g id="n45_3"><use href="#a" x="188"/></g><g id="n45_4"><use href="#c" x="240"/></g><g id="n45_5"><use href="#e" x="292"/></g><g id="n45_6"><use href="#e" x="344"/></g><g id="n45_7"><use href="#e" x="396"/></g><g id="n45_8"><use href="#c" x="448"/></g><g id="n45_9"><use href="#a" x="500"/></g><g id="n45_10"><use href="#a" x="552"/></g></g>
<g id="row46" transform="translate(0,2402)"><text class="lt" x="21" y="4.5">46</text><text class="rt" x="613" y="4.5">46</text><path class="ln" d="M26,0H66M570,0H609"/><g id="n46_1"><use href="#b" x="84"/></g><g id="n46_2"><use href="#b" x="136"/></g><g id="n46_3"><use href="#b" x="188"/></g><g id="n46_4"><use href="#b" x="240"/></g><g id="n46_5"><use href="#d" x="292"/></g><g id="n46_6"><use href="#f" x="344"/></g><g id="n46_7"><use href="#f" x="396"/></g><g id="n46_8"><use href="#d" x="448"/></g><g id="n46_9"><use href="#b" x="500"/></g><g id="n46_10"><use href="#b" x="552"/></g></g>
<g id="row47" transform="translate(0,2454)"><text class="lt" x="21" y="4.5">47</text><text class="rt" x="613" y="4.5">47</text><path class="ln" d="M26,0H66M570,0H609"/><g id="n47_1"><use href="#a" x="84"/></g><g id="n47_2"><use href="#a" x="136"/></g><g id="n47_3"><use href="#a" x="188"/></g><g id="n47_4"><use href="#a" x="240"/></g><g id="n47_5"><use href="#a" x="292"/></g><g id="n47_6"><use href="#c" x="344"/></g><g id="n47_7"><use href="#c" x="396"/></g><g id="n47_8"><use href="#a" x="448"/></g><g id="n47_9"><use href="#a" x="500"/></g><g id="n47_10"><use href="#a" x="552"/></g></g>
<g id="row48" transform="translate(0,2506)"><text class="lt" x="21" y="4.5">48</text><text class="rt" x="613" y="4.5">48</text><path class="ln" d="M26,0H66M570,0H609"/><g id="n48_1"><use href="#b" x="84"/></g><g id="n48_2"><use href="#b" x="136"/></g><g id="n48_3"><use href="#b" x="188"/></g><g id="n48_4"><use href="#b" x="240"/></g><g id="n48_5"><use href="#b" x="292"/></g><g id="n48_6"><use href="#b" x="344"/></g><g id="n48_7"><use href="#b" x="396"/></g><g id="n48_8"><use href="#b" x="448"/></g><g id="n48_9"><use href="#b" x="500"/></g><g id="n48_10"><use href="#b" x="552"/></g></g>
<g id="row49" transform="translate(0,2558)"><text class="lt" x="21" y="4.5">49</text><text class="rt" x="613" y="4.5">49</text><path class="ln" d="M26,0H66M570,0H609"/><g id="n49_1"><use href="#a" x="84"/></g><g id="n49_2"><use href="#a" x="136"/></g><g id="n49_3"><use href="#a" x="188"/></g><g id="n49_4"><use href="#a" x="240"/></g><g id="n49_5"><use href="#a" x="292"/></g><g id="n49_6"><use href="#a" x="344"/></g><g id="n49_7"><use href="#a" x="396"/></g><g id="n49_8"><use href="#a" x="448"/></g><g id="n49_9"><use href="#a" x="500"/></g><g id="n49_10"><use href="#a" x="552"/></g></g>
<g id="row50" transform="translate(0,2610)"><text class="lt" x="21" y="4.5">50</text><text class="rt" x="613" y="4.5">50</text><path class="ln" d="M26,0H66M570,0H609"/><g id="n50_1"><use href="#b" x="84"/></g><g id="n50_2"><use href="#b" x="136"/></g><g id="n50_3"><use href="#b" x="188"/></g><g id="n50_4"><use href="#b" x="240"/></g><g id="n50_5"><use href="#d" x="292"/></g><g id="n50_6"><use href="#d" x="344"/></g><g id="n50_7"><use href="#d" x="396"/></g><g id="n50_8"><use href="#b" x="448"/></g><g id="n50_9"><use href="#b" x="500"/></g><g id="n50_10"><use href="#b" x="552"/></g></g>
<g id="row51" transform="translate(0,2662)"><text class="lt" x="21" y="4.5">51</text><text class="rt" x="613" y="4.5">51</text><path class="ln" d="M26,0H66M570,0H609"/><g id="n51_1"><use href="#a" x="84"/></g><g id="n51_2"><use href="#a" x="136"/></g><g id="n51_3"><use href="#a" x="188"/></g><g id="n51_4"><use href="#c" x="240"/></g><g id="n51_5"><use href="#e" x="292"/></g><g id="n51_6"><use href="#e" x="344"/></g><g id="n51_7"><use href="#c" x="396"/></g><g id="n51_8"><use href="#a" x="448"/></g><g id="n51_9"><use href="#a" x="500"/></g><g id="n51_10"><use href="#a" x="552"/></g></g>
<g id="row52" transform="translate(0,2714)"><text class="lt" x="21" y="4.5">52</text><text class="rt" x="613" y="4.5">52</text><path class="ln" d="M26,0H66M570,0H609"/><g id="n52_1"><use href="#b" x="84"/></g><g id="n52_2"><use href="#b" x="136"/></g><g id="n52_3"><use href="#d" x="188"/></g><g id="n52_4"><use href="#f" x="240"/></g><g id="n52_5"><use href="#f" x="292"/></g><g id="n52_6"><use href="#d" x="344"/></g><g id="n52_7"><use href="#b" x="396"/></g><g id="n52_8"><use href="#b" x="448"/></g><g id="n52_9"><use href="#b" x="500"/></g><g id="n52_10"><use href="#b" x="552"/></g></g>
<g id="row53" transform="translate(0,2766)"><text class="lt" x="21" y="4.5">53</text><text class="rt" x="613" y="4.5">53</text><path class="ln" d="M26,0H66"/><g id="n53_1"><use href="#a" x="84"/></g><g id="n53_2"><use href="#a" x="136"/></g><g id="n53_3"><use href="#a" x="188"/></g><g id="n53_4"><use href="#c" x="240"/></g><g id="n53_5"><use href="#e" x="292"/></g><g id="n53_6"><use href="#e" x="344"/></g><g id="n53_7"><use href="#c" x="396"/></g><g id="n53_8"><use href="#a" x="448"/></g><g id="n53_9"><use href="#a" x="500"/></g><g id="n53_10"><use href="#a" x="552"/></g></g>
<g id="row54" transform="translate(0,2818)"><text class="lt" x="21" y="4.5">54</text><text class="rt" x="613" y="4.5">54</text><path class="ln" d="M26,0H66M570,0H609"/><g id="n54_1"><use href="#b" x="84"/></g><g id="n54_2"><use href="#b" x="136"/></g><g id="n54_3"><use href="#b" x="188"/></g><g id="n54_4"><use href="#b" x="240"/></g><g id="n54_5"><use href="#d" x="292"/></g><g id="n54_6"><use href="#d" x="344"/></g><g id="n54_7"><use href="#d" x="396"/></g><g id="n54_8"><use href="#b" x="448"/></g><g id="n54_9"><use href="#b" x="500"/></g><g id="n54_10"><use href="#b" x="552"/></g></g>
<g id="row55" transform="translate(0,2870)"><text class="lt" x="21" y="4.5">55</text><text class="rt" x="613" y="4.5">55</text><path class="ln" d="M26,0H66M570,0H609"/><g id="n55_1"><use href="#a" x="84"/></g><g id="n55_2"><use href="#a" x="136"/></g><g id="n55_3"><use href="#a" x="188"/></g><g id="n55_4"><use href="#a" x="240"/></g><g id="n55_5"><use href="#a" x="292"/></g><g id="n55_6"><use href="#a" x="344"/></g><g id="n55_7"><use href="#a" x="396"/></g><g id="n55_8"><use href="#a" x="448"/></g><g id="n55_9"><use href="#a" x="500"/></g><g id="n55_10"><use href="#a" x="552"/></g></g>
<g id="row56" transform="translate(0,2922)"><text class="lt" x="21" y="4.5">56</text><text class="rt" x="613" y="4.5">56</text><path class="ln" d="M26,0H66M570,0H609"/><g id="n56_1"><use href="#b" x="84"/></g><g id="n56_2"><use href="#b" x="136"/></g><g id="n56_3"><use href="#b" x="188"/></g><g id="n56_4"><use href="#b" x="240"/></g><g id="n56_5"><use href="#b" x="292"/></g><g id="n56_6"><use href="#b" x="344"/></g><g id="n56_7"><use href="#b" x="396"/></g><g id="n56_8"><use href="#b" x="448"/></g><g id="n56_9"><use href="#b" x="500"/></g><g id="n56_10"><use href="#b" x="552"/></g></g>
<g id="row57" transform="translate(0,2974)"><text class="lt" x="21" y="4.5">57</text><text class="rt" x="613" y="4.5">57</text><path class="ln" d="M26,0H66M570,0H609"/><g id="n57_1"><use href="#a" x="84"/></g><g id="n57_2"><use href="#a" x="136"/></g><g id="n57_3"><use href="#a" x="188"/></g><g id="n57_4"><use href="#a" x="240"/></g><g id="n57_5"><use href="#c" x="292"/></g><g id="n57_6"><use href="#a" x="344"/></g><g id="n57_7"><use href="#a" x="396"/></g><g id="n57_8"><use href="#a" x="448"/></g><g id="n57_9"><use href="#a" x="500"/></g><g id="n57_10"><use href="#a" x="552"/></g></g>
<g id="row58" transform="translate(0,3026)"><text class="lt" x="21" y="4.5">58</text><text class="rt" x="613" y="4.5">58</text><path class="ln" d="M26,0H66M570,0H609"/><g id="n58_1"><use href="#b" x="84"/></g><g id="n58_2"><use href="#b" x="136"/></g><g id="n58_3"><use href="#b" x="188"/></g><g id="n58_4"><use href="#d" x="240"/></g><g id="n58_5"><use href="#b" x="292"/></g><g id="n58_6"><use href="#d" x="344"/></g><g id="n58_7"><use href="#b" x="396"/></g><g id="n58_8"><use href="#b" x="448"/></g><g id="n58_9"><use href="#b" x="500"/></g><g id="n58_10"><use href="#b" x="552"/></g></g>
<g id="row59" transform="translate(0,3078)"><text class="lt" x="21" y="4.5">59</text><text class="rt" x="613" y="4.5">59</text><path class="ln" d="M26,0H66"/><g id="n59_1"><use href="#a" x="84"/></g><g id="n59_2"><use href="#a" x="136"/></g><g id="n59_3"><use href="#a" x="188"/></g><g id="n59_4"><use href="#a" x="240"/></g><g id="n59_5"><use href="#c" x="292"/></g><g id="n59_6"><use href="#a" x="344"/></g><g id="n59_7"><use href="#a" x="396"/></g><g id="n59_8"><use href="#a" x="448"/></g><g id="n59_9"><use href="#a" x="500"/></g><g id="n59_10"><use href="#a" x="552"/></g></g>
<g id="row60" transform="translate(0,3130)"><text class="lt" x="21" y="4.5">60</text><text class="rt" x="613" y="4.5">60</text><path class="ln" d="M26,0H66M570,0H609"/><g id="n60_1"><use href="#b" x="84"/></g><g id="n60_2"><use href="#b" x="136"/></g><g id="n60_3"><use href="#b" x="188"/></g><g id="n60_4"><use href="#b" x="240"/></g><g id="n60_5"><use href="#b" x="292"/></g><g id="n60_6"><use href="#b" x="344"/></g><g id="n60_7"><use href="#b" x="396"/></g><g id="n60_8"><use href="#b" x="448"/></g><g id="n60_9"><use href="#b" x="500"/></g><g id="n60_10"><use href="#b" x="552"/></g></g>
<g id="row61" transform="translate(0,3182)"><text class="lt" x="21" y="4.5">61</text><text class="rt" x="613" y="4.5">61</text><path class="ln" d="M26,0H66M570,0H609"/><g id="n61_1"><use href="#a" x="84"/></g><g id="n61_2"><use href="#a" x="136"/></g><g id="n61_3"><use href="#a" x="188"/></g><g id="n61_4"><use href="#a" x="240"/></g><g id="n61_5"><use href="#a" x="292"/></g><g id="n61_6"><use href="#a" x="344"/></g><g id="n61_7"><use href="#a" x="396"/></g><g id="n61_8"><use href="#a" x="448"/></g><g id="n61_9"><use href="#a" x="500"/></g><g id="n61_10"><use href="#a" x="552"/></g></g>
<g id="row62" transform="translate(0,3234)"><text class="lt" x="21" y="4.5">62</text><text class="rt" x="613" y="4.5">62</text><path class="ln" d="M26,0H66M570,0H609"/><g id="n62_1"><use href="#b" x="84"/></g><g id="n62_2"><use href="#b" x="136"/></g><g id="n62_3"><use href="#b" x="188"/></g><g id="n62_4"><use href="#b" x="240"/></g><g id="n62_5"><use href="#b" x="292"/></g><g id="n62_6"><use href="#b" x="344"/></g><g id="n62_7"><use href="#b" x="396"/></g><g id="n62_8"><use href="#b" x="448"/></g><g id="n62_9"><use href="#b" x="500"/></g><g id="n62_10"><use href="#b" x="552"/></g></g>
<g id="row63" transform="translate(0,3286)"><text class="lt" x="21" y="4.5">63</text><text class="rt" x="613" y="4.5">63</text><path class="ln" d="M26,0H66M570,0H609"/><g id="n63_1"><use href="#a" x="84"/></g><g id="n63_2"><use href="#a" x="136"/></g><g id="n63_3"><use href="#a" x="188"/></g><g id="n63_4"><use href="#a" x="240"/></g><g id="n63_5"><use href="#a" x="292"/></g><g id="n63_6"><use href="#a" x="344"/></g><g id="n63_7"><use href="#a" x="396"/></g><g id="n63_8"><use href="#a" x="448"/></g><g id="n63_9"><use href="#a" x="500"/></g><g id="n63_10"><use href="#a" x="552"/></g></g>
<g id="row64" transform="translate(0,3338)"><text class="lt" x="21" y="4.5">64</text><text class="rt" x="613" y="4.5">64</text><path class="ln" d="M26,0H66M570,0H609"/><g id="n64_1"><use href="#b" x="84"/></g><g id="n64_2"><use href="#b" x="136"/></g><g id="n64_3"><use href="#b" x="188"/></g><g id="n64_4"><use href="#b" x="240"/></g><g id="n64_5"><use href="#b" x="292"/></g><g id="n64_6"><use href="#b" x="344"/></g><g id="n64_7"><use href="#b" x="396"/></g><g id="n64_8"><use href="#b" x="448"/></g><g id="n64_9"><use href="#b" x="500"/></g><g id="n64_10"><use href="#b" x="552"/></g></g>
<g id="row65" transform="translate(0,3390)"><text class="lt" x="21" y="4.5">65</text><text class="rt" x="613" y="4.5">65</text><path class="ln" d="M26,0H66"/><g id="n65_1"><use href="#a" x="84"/></g><g id="n65_2"><use href="#a" x="136"/></g><g id="n65_3"><use href="#a" x="188"/></g><g id="n65_4"><use href="#a" x="240"/></g><g id="n65_5"><use href="#a" x="292"/></g><g id="n65_6"><use href="#a" x="344"/></g><g id="n65_7"><use href="#a" x="396"/></g><g id="n65_8"><use href="#a" x="448"/></g><g id="n65_9"><use href="#a" x="500"/></g><g id="n65_10"><use href="#a" x="552"/></g></g>
</g>
<text class="wm" x="319" y="1757">BRACELETBOOK.COM</text>
</svg>
